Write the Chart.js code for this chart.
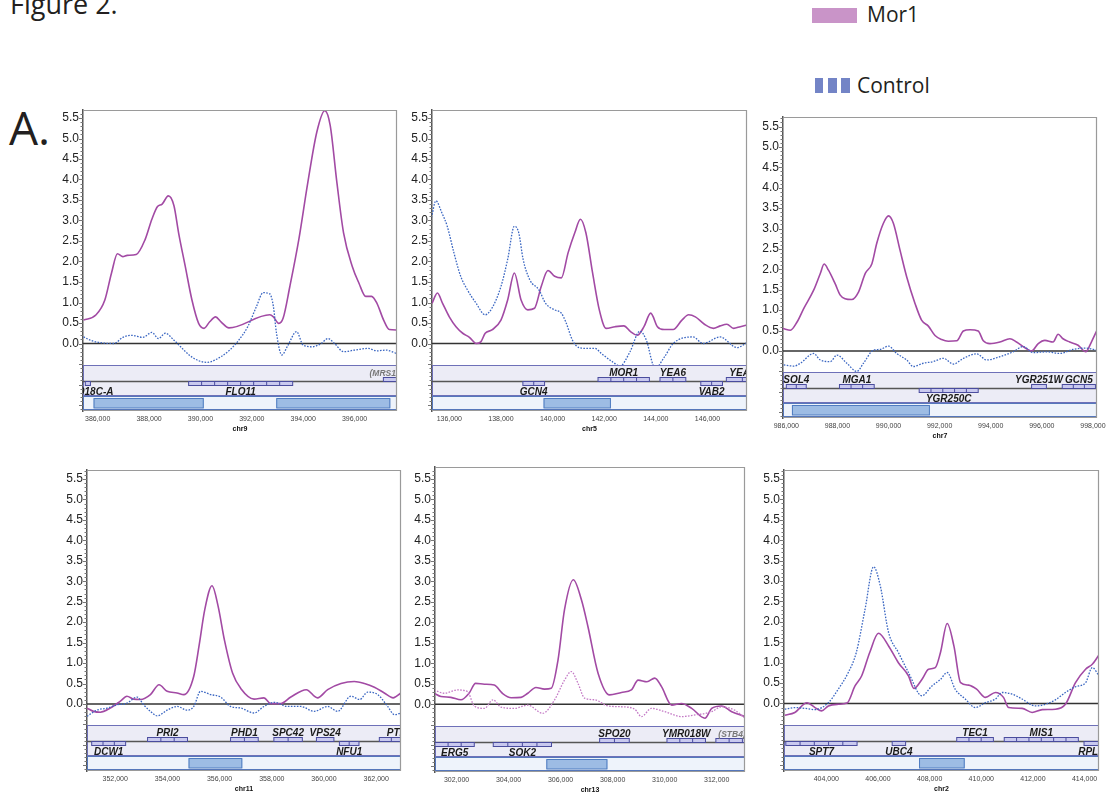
<!DOCTYPE html>
<html>
<head>
<meta charset="utf-8">
<script src="https://cdn.jsdelivr.net/npm/chart.js@4.4.0/dist/chart.umd.min.js"></script>
<style>
  body { margin: 0; background: #fff; width: 1106px; height: 796px; overflow: hidden; position: relative; }
  .txt { position: absolute; font-family: "Open Sans", sans-serif; line-height: 1; color: #231f20; white-space: nowrap; }
  .sw { position: absolute; }
  canvas { position: absolute; }
</style>
</head>
<body>
<div class="txt" style="left:10px;top:-10px;font-size:27px">Figure 2.</div>
<div class="txt" style="left:9px;top:104px;font-size:46px">A.</div>
<div class="sw" style="left:812px;top:8px;width:45px;height:15px;background:#c994c8"></div>
<div class="txt" style="left:867px;top:4px;font-size:21px">Mor1</div>
<div class="sw" style="left:815px;top:78px;width:8px;height:15px;background:#7384c6"></div>
<div class="sw" style="left:828px;top:78px;width:9px;height:15px;background:#7384c6"></div>
<div class="sw" style="left:841px;top:78px;width:9px;height:15px;background:#7384c6"></div>
<div class="txt" style="left:857px;top:75px;font-size:21px">Control</div>

<script>
const yTicks = [0, 0.5, 1, 1.5, 2, 2.5, 3, 3.5, 4, 4.5, 5, 5.5];

// chr9
const chr9MorKb = [385.45,385.94,386.28,386.54,386.77,386.98,387.15,387.50,387.85,388.11,388.33,388.51,388.75,388.97,389.15,389.41,389.67,389.93,390.14,390.36,390.59,390.80,391.11,392.70,392.84,393.05,393.22,393.48,393.83,394.18,394.53,394.84,395.05,395.31,395.57,395.91,396.17,396.43,396.66,396.87,397.13,397.35,397.65];
const chr9MorVal = [0.57,0.70,1.06,1.72,2.19,2.12,2.15,2.17,2.54,3.03,3.34,3.40,3.60,3.36,2.70,1.88,1.06,0.49,0.37,0.53,0.65,0.53,0.38,0.70,0.65,0.49,0.62,1.39,2.54,3.93,5.16,5.68,5.32,3.93,2.70,1.88,1.47,1.15,1.15,0.98,0.57,0.34,0.33];
const chr9CtlKb = [385.45,385.76,386.11,386.63,386.98,387.33,387.76,388.11,388.37,388.63,388.97,389.23,389.58,389.93,390.27,390.80,391.14,391.49,391.84,392.18,392.44,392.70,392.84,392.96,393.17,393.40,393.74,394.00,394.35,394.70,394.96,395.22,395.57,396.00,396.52,396.87,397.22,397.65];
const chr9CtlVal = [0.16,0.07,0.02,0.0,0.15,0.2,0.15,0.27,0.12,0.25,0.08,-0.08,-0.29,-0.42,-0.46,-0.32,-0.16,0.08,0.41,0.9,1.24,1.21,0.9,0.25,-0.28,-0.05,0.29,-0.04,-0.08,0.0,0.12,0.0,-0.2,-0.16,-0.12,-0.18,-0.16,-0.25];
const chr9Genes = [['YIR018C-A',385.52,385.72,-1],['FLO11',389.54,393.59,-1],['(MRS1)',397.12,398.3,1,397.15]];
const chr9Peaks = [[385.84,390.13],[392.95,397.39]];

// chr5
const chr5MorKb = [135.33,135.54,135.74,136.00,136.26,136.52,136.78,137.04,137.22,137.39,137.65,138.00,138.26,138.52,138.78,139.04,139.30,139.56,139.82,140.08,140.34,140.60,140.86,141.08,141.29,141.55,141.81,142.07,142.42,142.76,143.02,143.28,143.54,143.80,144.06,144.32,144.67,145.01,145.27,145.53,145.88,146.23,146.49,146.75,147.01,147.27,147.53];
const chr5MorVal = [0.98,1.23,0.98,0.65,0.41,0.25,0.15,0.0,0.04,0.25,0.33,0.57,1.06,1.72,1.06,0.82,0.86,1.39,1.78,1.64,1.60,2.21,2.70,3.03,2.70,1.72,0.82,0.37,0.41,0.43,0.29,0.20,0.41,0.74,0.41,0.34,0.34,0.57,0.70,0.65,0.47,0.37,0.43,0.47,0.37,0.41,0.45];
const chr5CtlKb = [135.31,135.48,135.71,135.92,136.18,136.44,136.70,137.04,137.39,137.65,138.00,138.26,138.52,138.69,138.86,139.12,139.47,139.73,140.08,140.34,140.51,140.77,141.03,141.38,141.64,141.90,142.33,142.61,143.00,143.38,143.62,143.97,144.36,144.67,145.44,145.83,146.49,147.14,147.53];
const chr5CtlVal = [3.07,3.48,3.19,2.86,2.21,1.64,1.31,0.98,0.70,0.86,1.39,2.05,2.86,2.70,2.05,1.55,1.31,0.98,0.82,0.74,0.53,0.08,-0.1,-0.12,-0.12,-0.25,-0.45,-0.55,-0.2,0.30,0.1,-0.6,-0.3,0.0,0.16,0.0,0.16,-0.1,0.02];
const chr5Genes = [['GCN4',138.85,139.69,-1],['MOR1',141.76,143.75,1],['YEA6',144.16,145.16,1],['VAB2',145.74,146.58,-1],['YEA4',146.73,147.97,1]];
const chr5Peaks = [[139.65,142.26]];

// chr7
const chr7MorKb = [985.87,986.16,986.42,986.68,987.07,987.33,987.48,987.65,987.91,988.11,988.30,988.56,988.83,989.09,989.35,989.54,989.80,990.00,990.19,990.45,990.71,991.04,991.30,991.56,991.82,992.08,992.34,992.67,992.93,993.19,993.51,993.71,993.97,994.36,994.75,995.01,995.34,995.60,995.86,996.12,996.44,996.64,996.83,997.09,997.42,997.72,997.94,998.16];
const chr7MorVal = [0.55,0.51,0.71,1.04,1.49,1.90,2.13,1.98,1.65,1.37,1.28,1.26,1.45,1.90,2.14,2.64,3.13,3.31,3.13,2.47,1.82,1.16,0.75,0.61,0.38,0.28,0.24,0.25,0.49,0.52,0.49,0.25,0.18,0.22,0.30,0.22,0.08,0.0,0.18,0.26,0.22,0.41,0.30,0.22,0.14,-0.02,0.22,0.51];
const chr7CtlKb = [985.90,986.29,986.55,987.07,987.33,987.72,987.98,988.37,988.76,989.02,989.41,989.67,990.00,990.32,990.71,990.97,991.36,991.75,992.15,992.54,992.93,993.45,993.84,994.36,994.88,995.27,995.66,996.18,996.70,997.22,997.74,998.14];
const chr7CtlVal = [-0.34,-0.37,-0.30,-0.06,-0.22,-0.26,-0.10,-0.30,-0.50,-0.30,0.02,0.04,0.12,-0.06,-0.22,-0.38,-0.30,-0.26,-0.18,-0.32,-0.18,-0.07,-0.22,-0.14,-0.02,0.11,-0.04,-0.02,-0.06,0.04,0.07,0.02];
const chr7Genes = [['SOL4',986.0,986.78,1],['MGA1',988.08,989.44,1],['YGR250C',991.2,993.51,-1],['YGR251W',995.6,996.18,1],['GCN5',996.8,998.1,1]];
const chr7Peaks = [[986.22,991.62]];

// chr11
const chr11MorKb = [350.92,351.17,351.43,351.81,352.20,352.45,352.71,352.97,353.35,353.68,353.99,354.37,354.63,355.01,355.22,355.43,355.71,355.94,356.19,356.50,356.81,357.32,357.70,357.96,358.34,358.73,359.32,359.75,360.14,360.65,361.16,361.55,361.93,362.31,362.65,362.95];
const chr11MorVal = [-0.10,-0.18,-0.20,-0.10,0.07,0.19,0.12,0.11,0.23,0.47,0.31,0.27,0.23,0.68,1.45,2.30,2.89,2.40,1.55,0.75,0.38,0.12,0.15,0.01,0.01,0.17,0.35,0.15,0.35,0.50,0.55,0.50,0.41,0.27,0.15,0.27];
const chr11CtlKb = [350.92,351.30,351.69,352.07,352.45,352.84,353.09,353.35,353.61,353.99,354.37,354.76,355.01,355.27,355.66,356.04,356.42,356.81,357.32,357.70,358.09,358.60,359.11,359.62,360.14,360.52,361.03,361.37,361.67,362.06,362.44,362.70,362.95];
const chr11CtlVal = [-0.30,-0.15,-0.10,-0.02,0.02,0.17,-0.02,-0.18,-0.29,-0.15,-0.06,-0.15,-0.06,0.31,0.23,0.17,-0.06,-0.10,-0.22,-0.06,0.04,-0.06,-0.06,-0.18,-0.06,-0.18,0.19,0.11,0.29,0.23,-0.06,-0.26,-0.22];
const chr11Genes = [['DCW1',351.1,352.4,-1],['PRI2',353.24,354.77,1],['PHD1',356.42,357.48,1],['SPC42',358.08,359.17,1],['VPS24',359.71,360.38,1],['NFU1',360.59,361.34,-1],['PTI1',362.12,363.5,1]];
const chr11Peaks = [[354.81,356.87]];

// chr13
const chr13MorKb = [301.14,301.40,301.78,302.17,302.48,302.73,303.07,303.45,303.76,304.10,304.48,304.74,305.05,305.38,305.64,305.90,306.15,306.49,306.80,307.05,307.44,307.88,308.34,308.72,308.98,309.32,309.62,309.88,310.27,310.65,311.04,311.55,311.81,312.19,312.58,313.09];
const chr13MorVal = [0.27,0.19,0.17,0.11,0.27,0.51,0.49,0.47,0.27,0.16,0.17,0.27,0.41,0.37,0.39,1.08,2.31,3.04,2.55,1.90,0.76,0.23,0.29,0.35,0.59,0.55,0.64,0.43,-0.02,0.02,-0.10,-0.34,-0.10,-0.04,-0.18,-0.30];
const chr13CtlKb = [301.14,301.52,302.04,302.42,302.68,303.07,303.40,303.71,304.22,304.74,305.31,305.77,306.15,306.41,306.67,306.92,307.31,307.82,308.34,308.85,309.11,309.49,310.01,310.65,311.17,311.81,312.19,312.71,313.09];
const chr13CtlVal = [0.35,0.27,0.35,0.31,-0.04,-0.10,0.11,-0.07,-0.10,-0.02,-0.22,0.11,0.59,0.80,0.51,0.15,0.11,-0.04,-0.06,-0.12,-0.30,-0.10,-0.18,-0.30,-0.26,-0.18,-0.06,-0.15,-0.34];
const chr13Genes = [['ERG5',301.17,302.68,-1],['SOK2',303.41,305.65,-1],['SPO20',307.5,308.64,1],['YMR018W',310.09,311.57,1],['(STB4)',311.97,313.5,1,312.59]];
const chr13Peaks = [[305.45,307.8]];

// chr2
const chr2MorKb = [402.39,402.78,403.25,403.56,403.82,404.08,404.46,404.80,405.11,405.37,405.68,406.02,406.41,406.79,407.18,407.39,407.70,407.96,408.22,408.42,408.68,408.94,409.20,409.51,409.82,410.16,410.55,410.86,411.06,411.58,411.97,412.36,412.87,413.26,413.65,414.04,414.30,414.56];
const chr2MorVal = [-0.29,-0.22,0.02,-0.10,-0.18,-0.06,-0.02,0.01,0.43,0.68,1.25,1.72,1.41,1.0,0.68,0.37,0.59,0.84,0.88,1.25,1.96,1.41,0.51,0.45,0.35,0.15,0.27,0.15,-0.10,-0.12,-0.22,-0.15,-0.14,-0.02,0.51,0.84,0.96,1.19];
const chr2CtlKb = [402.39,402.78,403.17,403.56,404.08,404.46,404.85,405.16,405.50,405.83,406.09,406.41,406.79,407.18,407.70,408.09,408.42,408.68,408.99,409.38,409.77,410.16,410.55,410.81,411.19,411.58,412.10,412.49,412.87,413.26,413.65,414.04,414.30,414.56];
const chr2CtlVal = [-0.14,-0.10,-0.12,-0.15,0.02,0.35,0.76,1.25,2.31,3.35,2.88,1.74,1.25,0.76,0.19,0.43,0.59,0.76,0.35,0.11,-0.10,0.02,0.11,0.27,0.23,0.11,-0.06,-0.02,0.09,0.27,0.41,0.51,0.88,0.68];
const chr2Genes = [['SPT7',402.43,405.19,-1],['UBC4',406.55,407.07,-1],['TEC1',409.05,410.47,1],['MIS1',410.89,413.76,1],['RPL',413.98,415.1,-1,414.14]];
const chr2Peaks = [[407.59,409.36]];

const MOR_COLOR = '#a24aa4';
const CTL_COLOR = '#3a66c2';

const panels = [
  { chr: 'chr9',  mor: [chr9MorKb, chr9MorVal],   ctl: [chr9CtlKb, chr9CtlVal],   genes: chr9Genes,  peaks: chr9Peaks,  xr: [385.43, 397.65], box: { l: 83,  r: 397,  t: 110, b: 411, zero: 343.5, y55: 118 }, padR: 20 },
  { chr: 'chr5',  mor: [chr5MorKb, chr5MorVal],   ctl: [chr5CtlKb, chr5CtlVal],   genes: chr5Genes,  peaks: chr5Peaks,  xr: [135.33, 147.53], box: { l: 432, r: 747,  t: 110, b: 411, zero: 343.5, y55: 118 }, padR: 20 },
  { chr: 'chr7',  mor: [chr7MorKb, chr7MorVal],   ctl: [chr7CtlKb, chr7CtlVal],   genes: chr7Genes,  peaks: chr7Peaks,  xr: [985.87, 998.16], box: { l: 783, r: 1097, t: 117, b: 418, zero: 351,   y55: 126.5 }, padR: 9 },
  { chr: 'chr11', mor: [chr11MorKb, chr11MorVal], ctl: [chr11CtlKb, chr11CtlVal], genes: chr11Genes, peaks: chr11Peaks, xr: [350.92, 362.95], box: { l: 87,  r: 401,  t: 470, b: 771, zero: 704,   y55: 479 }, padR: 20 },
  { chr: 'chr13', mor: [chr13MorKb, chr13MorVal], ctl: [chr13CtlKb, chr13CtlVal], genes: chr13Genes, peaks: chr13Peaks, xr: [301.17, 313.09], box: { l: 435, r: 745,  t: 467, b: 772, zero: 704.3, y55: 479 }, padR: 20, ctlColor: '#c47ac6' },
  { chr: 'chr2',  mor: [chr2MorKb, chr2MorVal],   ctl: [chr2CtlKb, chr2CtlVal],   genes: chr2Genes,  peaks: chr2Peaks,  xr: [402.36, 414.56], box: { l: 784, r: 1099, t: 470, b: 771, zero: 703.5, y55: 479 }, padR: 7 }
];

const Y_W = 28, X_H = 22, PAD_T = 2;

// gene track, peak track, zero line, frame and minor ticks
const trackPlugin = {
  id: 'track',
  beforeDatasetsDraw(chart) {
    const { ctx, chartArea: a, scales: { y } } = chart;
    const y0 = y.getPixelForValue(0);
    ctx.save();
    ctx.strokeStyle = '#333';
    ctx.lineWidth = 1.6;
    ctx.beginPath(); ctx.moveTo(a.left, y0); ctx.lineTo(a.right, y0); ctx.stroke();
    ctx.restore();
  },
  afterDatasetsDraw(chart, args, opts) {
    const { ctx, chartArea: a, scales: { x, y } } = chart;
    const B = a.bottom, w = a.right - a.left;
    ctx.save();
    ctx.beginPath(); ctx.rect(a.left, a.top, w, a.bottom - a.top); ctx.clip();
    ctx.fillStyle = '#fff';
    ctx.fillRect(a.left, B - 46, w, 46);

    // gene band
    ctx.fillStyle = '#ececf6';
    ctx.fillRect(a.left, B - 46, w, 31);
    ctx.strokeStyle = '#6e70b8'; ctx.lineWidth = 1;
    ctx.strokeRect(a.left + 0.5, B - 45.5, w - 1, 30);
    const mid = Math.round(B - 30.5) + 0.5;
    ctx.strokeStyle = '#555'; ctx.lineWidth = 1.4;
    ctx.beginPath(); ctx.moveTo(a.left, mid); ctx.lineTo(a.right, mid); ctx.stroke();

    opts.genes.forEach(([name, s, e, strand, lab]) => {
      const x1 = x.getPixelForValue(s), x2 = x.getPixelForValue(e);
      const yb = strand > 0 ? mid - 4 : mid;
      ctx.fillStyle = '#c9c9ef';
      ctx.fillRect(x1, yb, x2 - x1, 4);
      ctx.strokeStyle = '#4a4c9e'; ctx.lineWidth = 1;
      ctx.strokeRect(x1, yb, x2 - x1, 4);
      const n = Math.max(1, Math.round((x2 - x1) / 13));
      ctx.beginPath();
      for (let i = 1; i < n; i++) {
        const xi = x1 + (x2 - x1) * i / n;
        ctx.moveTo(xi, yb); ctx.lineTo(xi, yb + 4);
      }
      ctx.stroke();
      const dim = name.startsWith('(');
      ctx.font = dim ? 'italic bold 8.5px "Liberation Sans"' : 'italic bold 10px "Liberation Sans"';
      ctx.fillStyle = dim ? '#777' : '#1a1a1a';
      ctx.textAlign = 'center';
      ctx.textBaseline = 'alphabetic';
      const cx = x.getPixelForValue(lab !== undefined ? lab : (s + e) / 2);
      ctx.fillText(name, cx, strand > 0 ? mid - 6 : mid + 13.5);
    });

    // peak track
    ctx.fillStyle = '#eef3fb';
    ctx.fillRect(a.left, B - 14.5, w, 13.5);
    ctx.strokeStyle = '#5577bb'; ctx.lineWidth = 1;
    ctx.strokeRect(a.left + 0.5, B - 14.5, w - 1, 13);
    opts.peaks.forEach(([s, e]) => {
      const x1 = x.getPixelForValue(s), x2 = x.getPixelForValue(e);
      ctx.fillStyle = '#9dbce4';
      ctx.fillRect(x1, B - 12.5, x2 - x1, 9.5);
      ctx.strokeStyle = '#4f7cc0';
      ctx.strokeRect(x1 + 0.5, B - 12.5, x2 - x1 - 1, 9.5);
    });
    ctx.restore();

    // frame (top, right, bottom)
    ctx.save();
    ctx.strokeStyle = '#9a9a9a'; ctx.lineWidth = 1.2;
    ctx.beginPath();
    ctx.moveTo(a.left, a.top + 0.5); ctx.lineTo(a.right - 0.5, a.top + 0.5);
    ctx.lineTo(a.right - 0.5, a.bottom - 0.5); ctx.lineTo(a.left, a.bottom - 0.5);
    ctx.stroke();
    // minor ticks on the value axis
    ctx.strokeStyle = '#777'; ctx.lineWidth = 1;
    ctx.beginPath();
    for (let v = Math.ceil(y.min * 10) / 10; v <= y.max; v += 0.1) {
      const py = Math.round(y.getPixelForValue(v)) + 0.5;
      const major = Math.abs(v * 2 - Math.round(v * 2)) < 1e-6;
      ctx.moveTo(a.left - (major ? 4 : 2.5), py); ctx.lineTo(a.left, py);
    }
    ctx.stroke();
    ctx.restore();
  }
};

Chart.defaults.font.family = '"Liberation Sans", Arial, sans-serif';

panels.forEach((p) => {
  const bx = p.box;
  const cv = document.createElement('canvas');
  const cw = bx.r - bx.l + Y_W + p.padR;
  const ch = bx.b - bx.t + PAD_T + X_H;
  cv.width = cw; cv.height = ch;
  cv.style.left = (bx.l - Y_W) + 'px';
  cv.style.top = (bx.t - PAD_T) + 'px';
  cv.style.width = cw + 'px'; cv.style.height = ch + 'px';
  document.body.appendChild(cv);

  const ppu = (bx.zero - bx.y55) / 5.5;
  const yMax = (bx.zero - bx.t) / ppu;
  const yMin = -(bx.b - bx.zero) / ppu;

  const toPts = (xs, ys) => xs.map((v, i) => ({ x: v, y: ys[i] }));

  new Chart(cv, {
    type: 'line',
    data: {
      datasets: [
        {
          label: 'Control',
          data: toPts(p.ctl[0], p.ctl[1]),
          borderColor: p.ctlColor || CTL_COLOR,
          borderWidth: 1.3,
          borderDash: [1.6, 1.4],
          pointRadius: 0,
          cubicInterpolationMode: 'monotone'
        },
        {
          label: 'Mor1',
          data: toPts(p.mor[0], p.mor[1]),
          borderColor: MOR_COLOR,
          borderWidth: 1.6,
          pointRadius: 0,
          cubicInterpolationMode: 'monotone'
        }
      ]
    },
    options: {
      responsive: false,
      animation: false,
      layout: { padding: { top: PAD_T, right: p.padR, left: 0, bottom: 0 } },
      plugins: {
        legend: { display: false },
        tooltip: { enabled: false },
        track: { genes: p.genes, peaks: p.peaks }
      },
      scales: {
        x: {
          type: 'linear',
          min: p.xr[0],
          max: p.xr[1],
          grid: { display: false, drawTicks: false },
          border: { display: false },
          afterBuildTicks: (s) => {
            const t = [];
            for (let v = Math.ceil(s.min / 2) * 2; v <= s.max; v += 2) t.push({ value: v });
            s.ticks = t;
          },
          afterFit: (s) => { s.height = X_H; s.paddingLeft = 0; s.paddingRight = 0; },
          ticks: {
            autoSkip: false, maxRotation: 0, minRotation: 0, padding: 4,
            color: '#444', font: { size: 7 },
            callback: (v) => Math.round(v * 1000).toLocaleString('en-US')
          },
          title: { display: true, text: p.chr, color: '#111', font: { size: 7, weight: 'bold' }, padding: 0 }
        },
        y: {
          type: 'linear',
          min: yMin,
          max: yMax,
          grid: { display: false, drawTicks: false },
          border: { display: true, color: '#555', width: 1.5 },
          afterBuildTicks: (s) => { s.ticks = yTicks.map((v) => ({ value: v })); },
          afterFit: (s) => { s.width = Y_W; s.paddingTop = 0; s.paddingBottom = 0; },
          ticks: {
            autoSkip: false, padding: 4, color: '#222', font: { size: 12 },
            callback: (v) => v.toFixed(1)
          }
        }
      }
    },
    plugins: [trackPlugin]
  });
});
</script>
</body>
</html>
